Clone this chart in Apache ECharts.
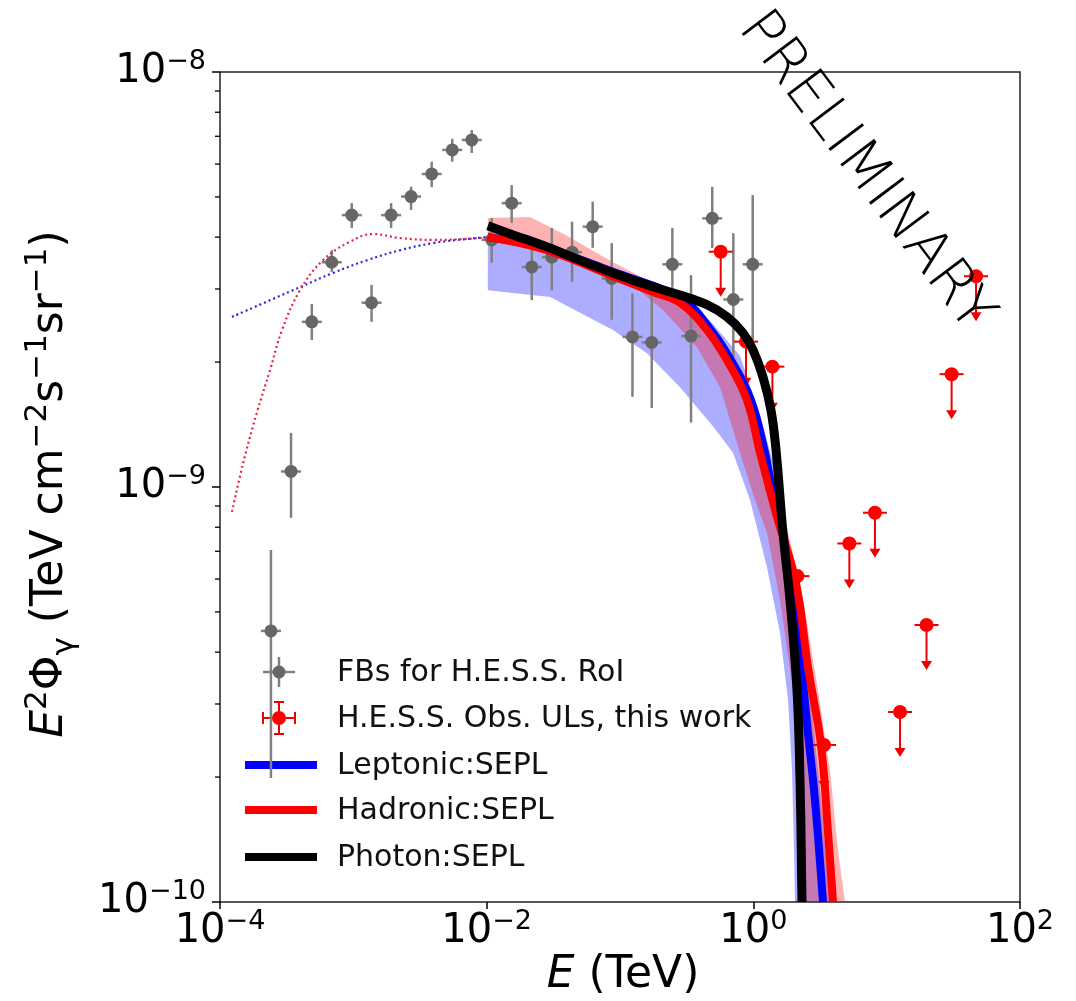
<!DOCTYPE html>
<html>
<head>
<meta charset="utf-8">
<title>FBs H.E.S.S. RoI spectrum</title>
<script src="https://cdn.jsdelivr.net/npm/echarts@6/dist/echarts.min.js"></script>
<style>
  html, body { margin: 0; padding: 0; background: #fff; }
  #chart { width: 1076px; height: 1001px; }
</style>
</head>
<body>
<div id="chart"></div>
<script>
// FBs for H.E.S.S. RoI : energy (TeV), E^2 Phi and its error range
var fbE = [2.41e-4, 3.41e-4, 4.88e-4, 6.89e-4, 9.73e-4, 1.37e-3, 1.92e-3, 2.71e-3, 3.87e-3,
  5.52e-3, 7.73e-3, 1.09e-2, 1.54e-2, 2.18e-2, 3.08e-2, 4.37e-2, 6.24e-2, 8.67e-2,
  0.124, 0.173, 0.247, 0.341, 0.492, 0.708, 0.989];
var fbF = [4.50e-10, 1.09e-9, 2.50e-9, 3.48e-9, 4.52e-9, 2.78e-9, 4.52e-9, 5.01e-9, 5.68e-9,
  6.49e-9, 6.86e-9, 3.94e-9, 4.83e-9, 3.39e-9, 3.58e-9, 3.68e-9, 4.24e-9, 3.18e-9,
  2.30e-9, 2.23e-9, 3.44e-9, 2.31e-9, 4.44e-9, 2.83e-9, 3.44e-9];
var fbLo = [1.99e-10, 8.43e-10, 2.26e-9, 3.30e-9, 4.21e-9, 2.50e-9, 4.21e-9, 4.65e-9, 5.28e-9,
  6.08e-9, 6.38e-9, 3.47e-9, 4.33e-9, 2.82e-9, 2.98e-9, 3.12e-9, 3.77e-9, 2.53e-9,
  1.65e-9, 1.55e-9, 3.02e-9, 1.43e-9, 3.77e-9, 2.02e-9, 2.18e-9];
var fbHi = [7.05e-10, 1.35e-9, 2.76e-9, 3.72e-9, 4.83e-9, 3.07e-9, 4.83e-9, 5.29e-9, 6.08e-9,
  6.90e-9, 7.25e-9, 4.45e-9, 5.34e-9, 3.79e-9, 4.21e-9, 4.36e-9, 4.87e-9, 3.87e-9,
  2.93e-9, 2.90e-9, 4.21e-9, 3.24e-9, 5.29e-9, 4.09e-9, 5.05e-9];

// H.E.S.S. upper limits
var ulE = [0.569, 0.881, 1.39, 2.14, 3.39, 5.25, 8.17, 12.6, 19.9, 30.7, 46.8];
var ulF = [3.69e-9, 2.24e-9, 1.95e-9, 6.10e-10, 2.39e-10, 7.31e-10, 8.67e-10, 2.87e-10,
  4.65e-10, 1.87e-9, 3.22e-9];

// model curves [E, E^2 Phi]
var leptonic = [[1.02e-2, 4.00e-9], [2.84e-2, 3.75e-9], [8.86e-2, 3.30e-9], [0.297, 2.82e-9],
  [0.481, 2.39e-9], [0.680, 2.02e-9], [0.960, 1.62e-9], [1.223, 1.21e-9], [1.357, 1.02e-9],
  [1.585, 8.33e-10], [2.05, 5.34e-10], [2.36, 3.37e-10], [2.57, 2.55e-10], [2.90, 1.76e-10],
  [3.33, 1.00e-10]];
var hadronic = [[1.02e-2, 4.00e-9], [2.84e-2, 3.72e-9], [8.86e-2, 3.22e-9], [0.177, 2.95e-9],
  [0.282, 2.78e-9], [0.449, 2.39e-9], [0.635, 2.02e-9], [0.896, 1.62e-9], [1.122, 1.21e-9],
  [1.505, 8.47e-10], [2.09, 5.87e-10], [2.57, 3.68e-10], [3.217, 2.39e-10], [3.631, 1.47e-10],
  [3.958, 1.00e-10]];
var photon = [[1.02e-2, 4.26e-9], [1.58e-2, 4.05e-9], [2.84e-2, 3.79e-9], [5.01e-2, 3.52e-9],
  [8.86e-2, 3.28e-9], [0.159, 3.07e-9], [0.282, 2.90e-9], [0.449, 2.75e-9], [0.635, 2.57e-9],
  [0.837, 2.35e-9], [0.994, 2.14e-9], [1.182, 1.84e-9], [1.357, 1.53e-9], [1.479, 1.23e-9],
  [1.669, 7.75e-10], [1.884, 5.34e-10], [2.126, 3.24e-10], [2.239, 1.97e-10], [2.317, 1.00e-10]];

// low-energy extensions (dotted)
var leptonicLow = [[1.23e-4, 2.57e-9], [3.98e-4, 3.03e-9], [7.04e-4, 3.28e-9], [1.27e-3, 3.52e-9],
  [2.24e-3, 3.72e-9], [3.96e-3, 3.87e-9], [7.12e-3, 3.96e-9], [1.02e-2, 4.00e-9]];
var hadronicLow = [[1.23e-4, 8.71e-10], [1.49e-4, 1.14e-9], [1.89e-4, 1.51e-9], [2.37e-4, 1.91e-9],
  [2.92e-4, 2.39e-9], [3.98e-4, 2.98e-9], [5.92e-4, 3.52e-9], [9.44e-4, 3.90e-9],
  [1.40e-3, 4.07e-9], [2.24e-3, 3.98e-9], [3.96e-3, 3.94e-9], [7.12e-3, 3.96e-9], [1.02e-2, 4.00e-9]];

// uncertainty bands
var leptonicBandUp = [[1.02e-2, 4.12e-9], [2.84e-2, 3.81e-9], [8.86e-2, 3.37e-9], [0.282, 2.92e-9],
  [0.498, 2.47e-9], [0.794, 2.07e-9], [1.122, 1.49e-9], [1.531, 1.04e-9], [2.018, 6.31e-10],
  [2.48, 4.05e-10], [2.85, 2.60e-10], [3.217, 1.76e-10], [3.76, 1.00e-10]];
var leptonicBandDown = [[1.02e-2, 2.98e-9], [2.99e-2, 2.87e-9], [5.01e-2, 2.63e-9], [8.86e-2, 2.39e-9],
  [0.159, 2.10e-9], [0.282, 1.74e-9], [0.498, 1.40e-9], [0.704, 1.21e-9], [0.944, 9.30e-10],
  [1.266, 6.41e-10], [1.585, 4.45e-10], [1.820, 3.07e-10], [1.950, 2.08e-10], [2.018, 1.33e-10],
  [2.054, 1.00e-10]];
var hadronicBandUp = [[1.02e-2, 4.45e-9], [2.11e-2, 4.47e-9], [4.00e-2, 4.03e-9], [8.86e-2, 3.48e-9],
  [0.177, 3.10e-9], [0.335, 2.76e-9], [0.562, 2.32e-9], [0.866, 1.86e-9], [1.122, 1.45e-9],
  [1.380, 1.10e-9], [1.884, 7.45e-10], [2.441, 5.05e-10], [3.05, 3.24e-10], [3.758, 2.08e-10],
  [4.315, 1.33e-10], [4.870, 1.00e-10]];
var hadronicBandDown = [[1.02e-2, 3.94e-9], [3.55e-2, 3.68e-9], [0.119, 3.10e-9], [0.210, 2.67e-9],
  [0.378, 2.17e-9], [0.562, 1.74e-9], [0.794, 1.21e-9], [1.03, 9.30e-10], [1.266, 7.75e-10],
  [1.585, 5.34e-10], [1.950, 3.37e-10], [2.163, 2.11e-10], [2.239, 1.33e-10], [2.278, 1.00e-10]];

// minor ticks of the flux axis
var yMinorTicks = [2e-10, 3e-10, 4e-10, 5e-10, 6e-10, 7e-10, 8e-10, 9e-10,
  2e-9, 3e-9, 4e-9, 5e-9, 6e-9, 7e-9, 8e-9, 9e-9];

var FONT = 'DejaVu Sans';

function powLabel(v) {
  var e = Math.round(Math.log10(v));
  return '{b|10}{s|' + (e < 0 ? '\u2212' : '') + Math.abs(e) + '}';
}

var labelRich = {
  b: { fontFamily: FONT, fontSize: 40, lineHeight: 48, color: '#000' },
  s: { fontFamily: FONT, fontSize: 27, lineHeight: 28, verticalAlign: 'top', color: '#000' }
};

function bandRender(up, down, color) {
  return function (params, api) {
    var pts = up.map(function (d) { return api.coord(d); });
    for (var i = down.length - 1; i >= 0; i--) pts.push(api.coord(down[i]));
    return { type: 'polygon', shape: { points: pts }, style: { fill: color } };
  };
}

function fbRender(params, api) {
  var p = api.coord([api.value(0), api.value(1)]);
  var lo = api.coord([api.value(0), api.value(2)]);
  var hi = api.coord([api.value(0), api.value(3)]);
  var line = { stroke: '#808080', lineWidth: 2.5 };
  return {
    type: 'group',
    children: [
      { type: 'line', shape: { x1: p[0], y1: hi[1], x2: p[0], y2: lo[1] }, style: line },
      { type: 'line', shape: { x1: p[0] - 10, y1: p[1], x2: p[0] + 10, y2: p[1] }, style: line },
      { type: 'circle', shape: { cx: p[0], cy: p[1], r: 6.5 }, style: { fill: '#666' } }
    ]
  };
}

function ulRender(params, api) {
  var p = api.coord([api.value(0), api.value(1)]);
  var len = 45;
  var st = { stroke: '#ee0000', lineWidth: 2 };
  return {
    type: 'group',
    children: [
      { type: 'line', shape: { x1: p[0] - 12, y1: p[1], x2: p[0] + 12, y2: p[1] }, style: st },
      { type: 'line', shape: { x1: p[0], y1: p[1], x2: p[0], y2: p[1] + len - 6 }, style: st },
      { type: 'polygon', shape: { points: [[p[0] - 5.5, p[1] + len - 9], [p[0] + 5.5, p[1] + len - 9], [p[0], p[1] + len]] },
        style: { fill: '#ee0000' } },
      { type: 'circle', shape: { cx: p[0], cy: p[1], r: 7 }, style: { fill: '#ff0000' } }
    ]
  };
}

function minorTickRender(params, api) {
  var p = api.coord([api.value(0), api.value(1)]);
  var x0 = params.coordSys.x;
  return { type: 'line', shape: { x1: x0 - 5, y1: p[1], x2: x0, y2: p[1] }, style: { stroke: '#000', lineWidth: 1.3 } };
}

var chart = echarts.init(document.getElementById('chart'), null, { renderer: 'canvas' });

// legend drawn in the lower-left corner of the axes
var legendX = 245, legendTextX = 337;
var legendRows = [672, 718, 765, 810, 857];
var legendNames = ['FBs for H.E.S.S. RoI', 'H.E.S.S. Obs. ULs, this work', 'Leptonic:SEPL', 'Hadronic:SEPL', 'Photon:SEPL'];
var legendColors = [null, null, '#0000ff', '#ff0000', '#000000'];
var legendGraphics = [];
legendNames.forEach(function (name, i) {
  legendGraphics.push({
    type: 'text', x: legendTextX, y: legendRows[i] + 1,
    style: { text: name, fontFamily: FONT, fontSize: 30, fill: '#111', verticalAlign: 'middle' }
  });
  if (legendColors[i]) {
    legendGraphics.push({
      type: 'rect', shape: { x: legendX, y: legendRows[i] - 4, width: 72, height: 8 },
      style: { fill: legendColors[i] }
    });
  }
});
var gx = 279;
legendGraphics.push({
  type: 'group', x: gx, y: legendRows[0],
  children: [
    { type: 'line', shape: { x1: 0, y1: -15, x2: 0, y2: 15 }, style: { stroke: '#808080', lineWidth: 2.5 } },
    { type: 'line', shape: { x1: -16, y1: 0, x2: 16, y2: 0 }, style: { stroke: '#808080', lineWidth: 2.5 } },
    { type: 'circle', shape: { cx: 0, cy: 0, r: 6.5 }, style: { fill: '#666' } }
  ]
});
legendGraphics.push({
  type: 'group', x: gx, y: legendRows[1],
  children: [
    { type: 'line', shape: { x1: -16, y1: 0, x2: 16, y2: 0 }, style: { stroke: '#ee0000', lineWidth: 2 } },
    { type: 'line', shape: { x1: -16, y1: -6, x2: -16, y2: 6 }, style: { stroke: '#ee0000', lineWidth: 2 } },
    { type: 'line', shape: { x1: 16, y1: -6, x2: 16, y2: 6 }, style: { stroke: '#ee0000', lineWidth: 2 } },
    { type: 'line', shape: { x1: 0, y1: -16, x2: 0, y2: 16 }, style: { stroke: '#ee0000', lineWidth: 2 } },
    { type: 'line', shape: { x1: -5, y1: -16, x2: 5, y2: -16 }, style: { stroke: '#ee0000', lineWidth: 2 } },
    { type: 'line', shape: { x1: -5, y1: 16, x2: 5, y2: 16 }, style: { stroke: '#ee0000', lineWidth: 2 } },
    { type: 'circle', shape: { cx: 0, cy: 0, r: 7 }, style: { fill: '#ff0000' } }
  ]
});

var titleRich = {
  i: { fontFamily: FONT, fontSize: 44, fontStyle: 'italic', lineHeight: 58, color: '#000' },
  n: { fontFamily: FONT, fontSize: 44, lineHeight: 58, color: '#000' },
  s: { fontFamily: FONT, fontSize: 31, lineHeight: 33, verticalAlign: 'top', color: '#000' },
  d: { fontFamily: FONT, fontSize: 31, lineHeight: 33, verticalAlign: 'bottom', color: '#000' }
};

var option = {
  animation: false,
  backgroundColor: '#fff',
  grid: {
    left: 220, top: 72, width: 800, height: 830,
    show: true, borderColor: '#222', borderWidth: 1.5, backgroundColor: 'transparent'
  },
  xAxis: {
    type: 'log', logBase: 10, min: 1e-4, max: 1e2, interval: 2,
    axisLine: { show: false },
    axisTick: { show: true, inside: false, length: 7, lineStyle: { color: '#000', width: 1.5 } },
    axisLabel: { margin: 6, formatter: powLabel, rich: labelRich },
    splitLine: { show: false },
    minorTick: { show: false }
  },
  yAxis: {
    type: 'log', logBase: 10, min: 1e-10, max: 1e-8, interval: 1,
    axisLine: { show: false },
    axisTick: { show: true, inside: false, length: 8, lineStyle: { color: '#000', width: 1.5 } },
    axisLabel: { margin: 14, formatter: powLabel, rich: labelRich },
    splitLine: { show: false },
    minorTick: { show: false }
  },
  graphic: [
    {
      type: 'text', x: 51, y: 484, rotation: Math.PI / 2,
      style: {
        text: '{i|E}{s|2}{n|\u03A6}{d|\u03B3}{n| (TeV cm}{s|\u22122}{n|s}{s|\u22121}{n|sr}{s|\u22121}{n|)}',
        rich: titleRich, align: 'center', verticalAlign: 'middle'
      }
    },
    {
      type: 'text', x: 623, y: 976,
      style: { text: '{i|E}{n| (TeV)}', rich: titleRich, align: 'center', verticalAlign: 'middle' }
    },
    {
      type: 'text', x: 865, y: 172, rotation: -0.925, z: 50,
      style: {
        text: 'PRELIMINARY', fontFamily: FONT, fontSize: 58, fontWeight: 200,
        fill: '#000', align: 'center', verticalAlign: 'middle'
      }
    }
  ].concat(legendGraphics),
  series: [
    {
      type: 'custom', name: 'Leptonic band', z: 1, clip: true,
      data: [leptonicBandUp[0]],
      renderItem: bandRender(leptonicBandUp, leptonicBandDown, 'rgba(0,0,255,0.32)')
    },
    {
      type: 'custom', name: 'Hadronic band', z: 1, clip: true,
      data: [hadronicBandUp[0]],
      renderItem: bandRender(hadronicBandUp, hadronicBandDown, 'rgba(255,0,0,0.3)')
    },
    {
      type: 'custom', name: 'FBs for H.E.S.S. RoI', z: 2,
      data: fbE.map(function (e, i) { return [e, fbF[i], fbLo[i], fbHi[i]]; }),
      encode: { x: 0, y: 1 },
      renderItem: fbRender
    },
    {
      type: 'custom', name: 'H.E.S.S. Obs. ULs, this work', z: 3,
      data: ulE.map(function (e, i) { return [e, ulF[i]]; }),
      renderItem: ulRender
    },
    {
      type: 'line', name: 'Leptonic:SEPL', z: 4, data: leptonic, smooth: 0.4,
      showSymbol: false, lineStyle: { color: '#0000ff', width: 8 }, clip: true
    },
    {
      type: 'line', name: 'Hadronic:SEPL', z: 5, data: hadronic, smooth: 0.4,
      showSymbol: false, lineStyle: { color: '#ff0000', width: 8 }, clip: true
    },
    {
      type: 'line', name: 'Photon:SEPL', z: 6, data: photon, smooth: 0.4,
      showSymbol: false, lineStyle: { color: '#000000', width: 9 }, clip: true
    },
    {
      type: 'line', name: 'Leptonic low', z: 7, data: leptonicLow, smooth: 0.4,
      showSymbol: false, lineStyle: { color: '#2a2ae0', width: 2.2, type: [2, 3] }
    },
    {
      type: 'line', name: 'Hadronic low', z: 7, data: hadronicLow, smooth: 0.4,
      showSymbol: false, lineStyle: { color: '#ee2040', width: 2.2, type: [2, 3] }
    },
    {
      type: 'custom', name: 'minor ticks', z: 8,
      data: yMinorTicks.map(function (v) { return [1e-4, v]; }),
      renderItem: minorTickRender
    }
  ]
};

chart.setOption(option);
</script>
</body>
</html>
